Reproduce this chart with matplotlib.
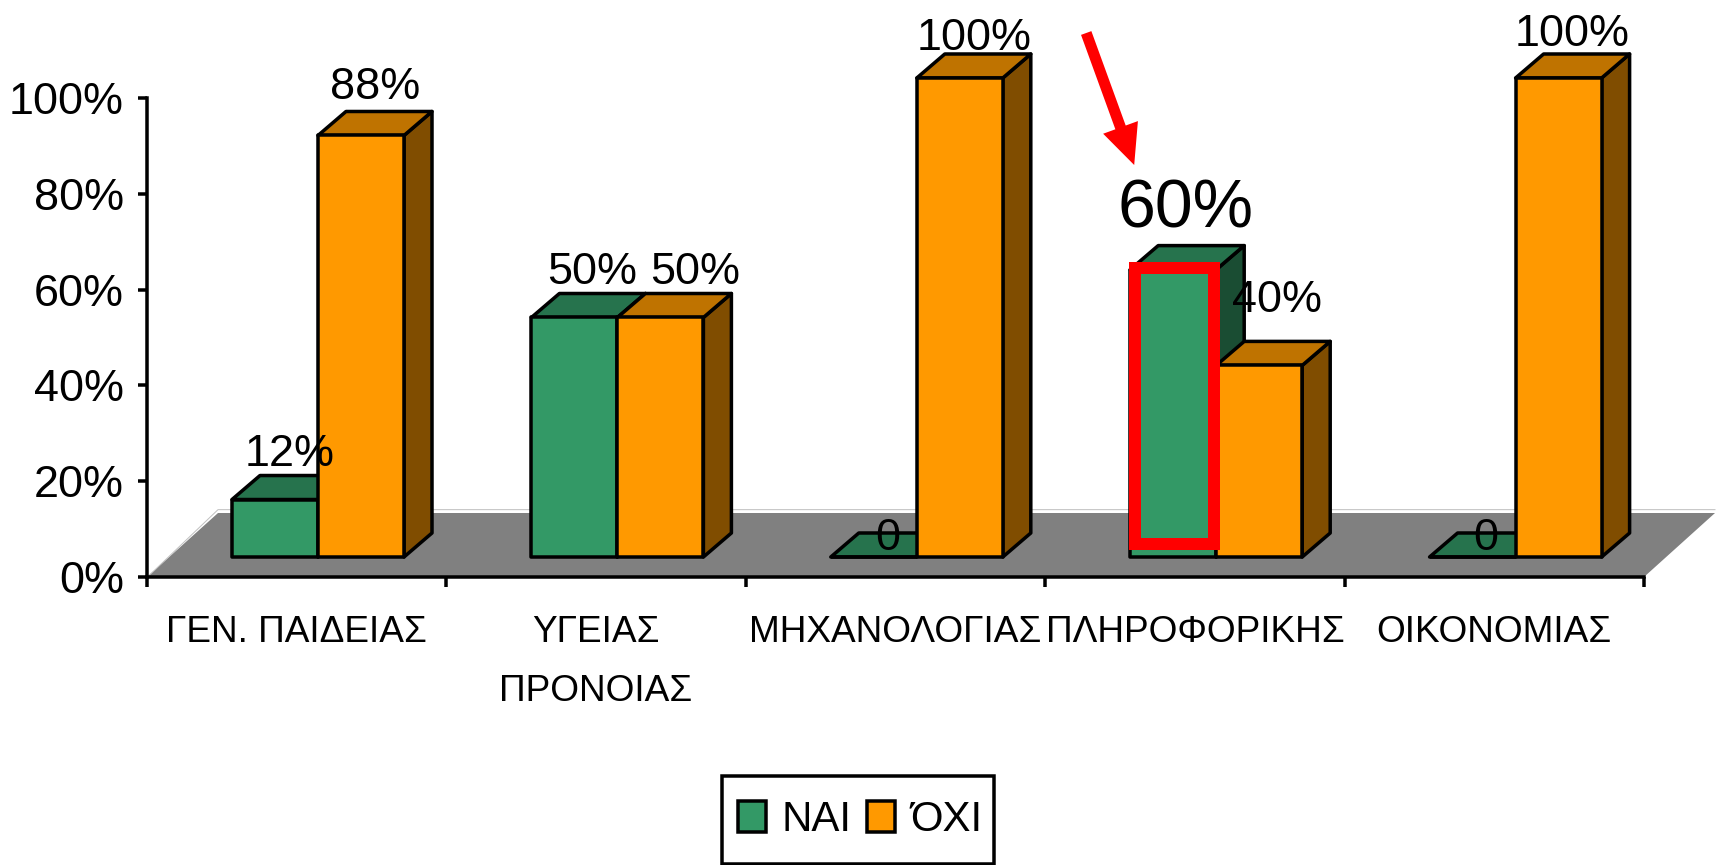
import matplotlib
matplotlib.use("Agg")
import matplotlib.pyplot as plt
from matplotlib.patches import Polygon, Rectangle

plt.rcParams["font.family"] = ["Liberation Sans", "DejaVu Sans"]

categories = ["ΓΕΝ. ΠΑΙΔΕΙΑΣ", "ΥΓΕΙΑΣ\nΠΡΟΝΟΙΑΣ", "ΜΗΧΑΝΟΛΟΓΙΑΣ", "ΠΛΗΡΟΦΟΡΙΚΗΣ", "ΟΙΚΟΝΟΜΙΑΣ"]
nai = [12, 50, 0, 60, 0]
oxi = [88, 50, 100, 40, 100]
nai_labels = ["12%", "50%", "0", "60%", "0"]
oxi_labels = ["88%", "50%", "100%", "40%", "100%"]
y_ticks = [0, 20, 40, 60, 80, 100]

W, H = 1716, 865
LEFT, RIGHT, BOTTOM, TOP = 147, 1644, 577, 98
PX_X = (RIGHT - LEFT) / 5
PX_Y = (BOTTOM - TOP) / 100


def dx(px):
    return px / PX_X


def dy(px):
    return px / PX_Y


def pt(px):
    return px * 0.72


GREEN = ("#339966", "#26734d", "#1a4d33")
ORANGE = ("#ff9900", "#bf7300", "#804d00")
LW = pt(3.5)

# bar geometry in axis units
BAR_START = dx(85)
BAR_W = dx(86)
BASE = dy(20)
DEPTH_X = dx(28)
DEPTH_Y = dy(24)

# label offsets from the bar's front top centre, in pixels
NAI_OFFSETS = [(15, 45), (18, 45), (14, 19), (12, 60), (13, 19)]
OXI_OFFSETS = [(14, 48), (35, 45), (14, 40), (18, 65), (14, 43)]
LABEL_PX = 45
NAI_SIZES = [pt(LABEL_PX), pt(LABEL_PX), pt(LABEL_PX), pt(68), pt(LABEL_PX)]

fig = plt.figure(figsize=(W / 100, H / 100), dpi=100)
ax = fig.add_axes([LEFT / W, 1 - BOTTOM / H, (RIGHT - LEFT) / W, (BOTTOM - TOP) / H])
ax.set_xlim(0, 5)
ax.set_ylim(0, 100)
ax.patch.set_visible(False)

for side in ["top", "right"]:
    ax.spines[side].set_visible(False)
for side in ["left", "bottom"]:
    ax.spines[side].set_linewidth(LW)
    ax.spines[side].set_zorder(6)

ax.set_yticks(y_ticks)
ax.set_yticklabels([f"{v}%" for v in y_ticks], fontsize=pt(LABEL_PX))
ax.tick_params(axis="y", length=pt(9), width=LW, pad=pt(14))
ax.set_xticks(range(6))
ax.set_xticklabels([])
ax.tick_params(axis="x", which="major", length=pt(10), width=LW)
ax.set_xticks([i + 0.5 for i in range(5)], minor=True)
ax.set_xticklabels(categories, minor=True, fontsize=pt(37), linespacing=1.9)
ax.tick_params(axis="x", which="minor", length=0, pad=pt(38))

# floor of the 3d box
floor_x = dx(71)
floor_y = dy(64)
ax.add_patch(Polygon([(0, 0), (5, 0), (5 + floor_x, floor_y), (floor_x, floor_y)],
                     closed=True, facecolor="#808080", edgecolor="none", clip_on=False, zorder=1))
ax.plot([0.01, floor_x, 5 + floor_x], [0.5, floor_y + 0.7, floor_y + 0.7],
        color="#c0c0c0", lw=pt(1), clip_on=False, zorder=1)


def draw_bar(x, value, colors, zorder):
    y0 = BASE
    y1 = BASE + value
    front, top, side = colors
    kw = dict(closed=True, edgecolor="black", linewidth=LW, joinstyle="round",
              clip_on=False, zorder=zorder)
    ax.add_patch(Polygon([(x + BAR_W, y0), (x + BAR_W + DEPTH_X, y0 + DEPTH_Y),
                          (x + BAR_W + DEPTH_X, y1 + DEPTH_Y), (x + BAR_W, y1)],
                         facecolor=side, **kw))
    ax.add_patch(Polygon([(x, y1), (x + DEPTH_X, y1 + DEPTH_Y),
                          (x + BAR_W + DEPTH_X, y1 + DEPTH_Y), (x + BAR_W, y1)],
                         facecolor=top, **kw))
    ax.add_patch(Polygon([(x, y0), (x + BAR_W, y0), (x + BAR_W, y1), (x, y1)],
                         facecolor=front, **kw))


for i in range(5):
    x_nai = i + BAR_START
    x_oxi = x_nai + BAR_W
    draw_bar(x_nai, nai[i], GREEN, 2 + i * 0.1)
    draw_bar(x_oxi, oxi[i], ORANGE, 3 + i * 0.1)
    ax.annotate(nai_labels[i], (x_nai + BAR_W / 2, BASE + nai[i]),
                xytext=(pt(NAI_OFFSETS[i][0]), pt(NAI_OFFSETS[i][1])), textcoords="offset points",
                ha="center", va="center", fontsize=NAI_SIZES[i], zorder=7, annotation_clip=False)
    ax.annotate(oxi_labels[i], (x_oxi + BAR_W / 2, BASE + oxi[i]),
                xytext=(pt(OXI_OFFSETS[i][0]), pt(OXI_OFFSETS[i][1])), textcoords="offset points",
                ha="center", va="center", fontsize=pt(LABEL_PX), zorder=7, annotation_clip=False)

# red highlight around the ΠΛΗΡΟΦΟΡΙΚΗΣ bar
ax.add_patch(Rectangle((3 + BAR_START + dx(5), dy(33)), dx(79), dy(276), facecolor="none",
                       edgecolor="#ff0000", linewidth=pt(12), joinstyle="miter",
                       clip_on=False, zorder=5))
ax.annotate("", xy=(3 + dx(89), dy(412)), xytext=(3 + dx(41), dy(544)),
            arrowprops=dict(facecolor="#ff0000", edgecolor="none", width=pt(11),
                            headwidth=pt(37), headlength=pt(40), shrink=0),
            annotation_clip=False, zorder=6)

handles = [Rectangle((0, 0), 1, 1, facecolor=GREEN[0], edgecolor="black", linewidth=LW),
           Rectangle((0, 0), 1, 1, facecolor=ORANGE[0], edgecolor="black", linewidth=LW)]
fig.add_artist(Rectangle((722 / W, 1 - 864 / H), 272 / W, 88 / H, transform=fig.transFigure,
                         facecolor="white", edgecolor="black", linewidth=LW))
leg = fig.legend(handles, ["ΝΑΙ", "ΌΧΙ"], ncol=2, loc="center left",
                 bbox_to_anchor=(738 / W, 1 - 820 / H), borderaxespad=0, borderpad=0,
                 fontsize=pt(42), frameon=False,
                 handlelength=0.67, handleheight=0.74, handletextpad=0.36,
                 columnspacing=0.38)

fig.savefig("out.png", dpi=100)
